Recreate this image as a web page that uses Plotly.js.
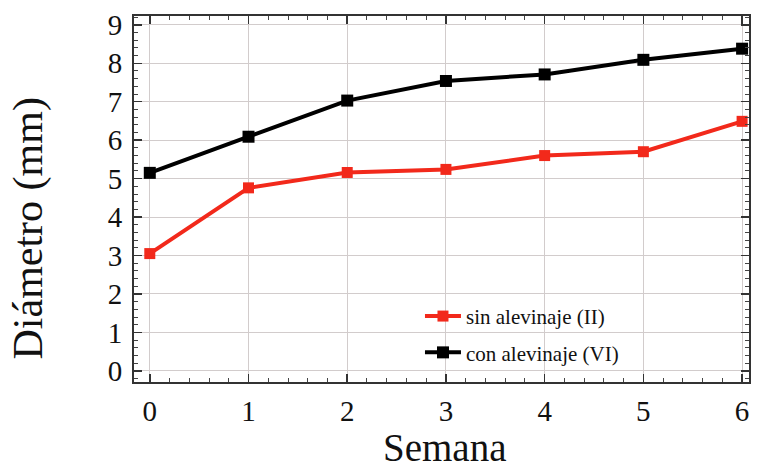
<!DOCTYPE html>
<html>
<head>
<meta charset="utf-8">
<script src="https://cdn.plot.ly/plotly-3.0.1.min.js"></script>
<style>
  html, body { margin: 0; padding: 0; background: #ffffff; }
  #chart { width: 757px; height: 472px; }
</style>
</head>
<body>
<div id="chart"></div>
<script>
// Weekly diameter measurements
const semanas = [0, 1, 2, 3, 4, 5, 6];
const sinAlevinaje = [3.05, 4.76, 5.16, 5.24, 5.60, 5.70, 6.49];
const conAlevinaje = [5.15, 6.09, 7.03, 7.54, 7.71, 8.09, 8.38];
const nombres = ['sin alevinaje (II)', 'con alevinaje (VI)'];
const tickValsX = [0, 1, 2, 3, 4, 5, 6];
const tickValsY = [0, 1, 2, 3, 4, 5, 6, 7, 8, 9];
const tituloX = 'Semana';
const tituloY = 'Diámetro (mm)';

const serif = 'Liberation Serif, Times New Roman, serif';

const traces = [
  {
    x: semanas, y: sinAlevinaje, name: nombres[0], legendgroup: 'a',
    type: 'scatter', mode: 'lines+markers',
    line: { color: '#f2291b', width: 4 },
    marker: { symbol: 'square', size: 11, color: '#f2291b' }
  },
  {
    x: semanas, y: conAlevinaje, name: nombres[1], legendgroup: 'b',
    type: 'scatter', mode: 'lines+markers',
    line: { color: '#000000', width: 4 },
    marker: { symbol: 'square', size: 12, color: '#000000' }
  }
];

const axisCommon = {
  showline: true, linecolor: '#333333', linewidth: 2,
  mirror: 'allticks', ticks: 'inside', ticklen: 8, tickwidth: 1.5, tickcolor: '#333333',
  showgrid: true, gridcolor: '#d2cccc', gridwidth: 1,
  zeroline: false,
  tickfont: { family: serif, size: 29, color: '#111111' },
  minor: { ticks: 'inside', ticklen: 4, tickwidth: 1, tickcolor: '#444444', dtick: 0.2, showgrid: false }
};

const layout = {
  width: 757, height: 472,
  margin: { l: 134, r: 8, t: 16, b: 90 },
  paper_bgcolor: '#ffffff', plot_bgcolor: '#ffffff',
  showlegend: true,
  legend: {
    x: 0.465, y: 0.13, xanchor: 'left', yanchor: 'middle',
    bgcolor: 'rgba(0,0,0,0)', borderwidth: 0,
    font: { family: serif, size: 21, color: '#111111' },
    tracegroupgap: 6, itemwidth: 36
  },
  xaxis: Object.assign({}, axisCommon, {
    range: [-0.16, 6.07],
    tickvals: tickValsX,
    ticklabelstandoff: 2
  }),
  yaxis: Object.assign({}, axisCommon, {
    range: [-0.29, 9.23],
    tickvals: tickValsY,
    ticklabelstandoff: 4
  }),
  annotations: [
    {
      text: tituloX, xref: 'paper', yref: 'paper',
      x: 0.505, y: -0.178, xanchor: 'center', yanchor: 'middle', borderpad: 0,
      showarrow: false, font: { family: serif, size: 39, color: '#111111' }
    },
    {
      text: tituloY, xref: 'paper', yref: 'paper',
      x: -0.172, y: 0.42, xanchor: 'center', yanchor: 'middle', textangle: -90,
      showarrow: false, font: { family: serif, size: 42, color: '#111111' }
    }
  ]
};

Plotly.newPlot('chart', traces, layout, { displayModeBar: false, staticPlot: true });
</script>
</body>
</html>
